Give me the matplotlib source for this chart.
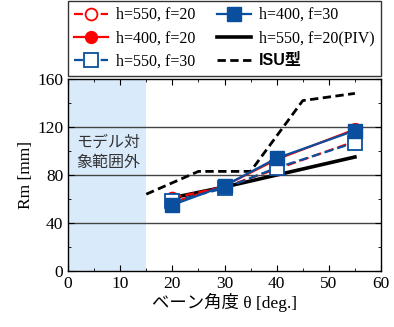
import matplotlib
matplotlib.use("Agg")
import matplotlib.pyplot as plt

plt.rcParams['font.family'] = ['Liberation Serif', 'Noto Sans CJK JP']

angles = [20, 30, 40, 55]
h550_f20 = [61, 70, 85, 108]
h400_f20 = [57, 71, 93, 118]
h550_f30 = [58, 69, 86, 107]
h400_f30 = [55, 71, 94, 117]
piv_x = [20, 30, 40, 55]
piv_y = [61, 70, 80, 95]
isu_x = [15, 25, 35, 45, 55]
isu_y = [64, 83, 83, 142, 148]

red = '#ff0000'
blue = '#0a4f9e'

fig = plt.figure(figsize=(3.94, 3.27), dpi=100)
ax = fig.add_axes([0.1726, 0.1713, 0.7944, 0.5871])

ax.axvspan(0, 15, color='#d9ebfb', zorder=0, lw=0)
for yv in [40, 80, 120]:
    ax.axhline(yv, color='#444444', lw=1.0, zorder=1)

l1, = ax.plot(angles, h550_f20, color=red, ls='--', lw=1.6, marker='o', ms=8.5,
              mfc='white', mec=red, mew=1.3, dashes=(4, 2), zorder=3, label='h=550, f=20')
l2, = ax.plot(angles, h400_f20, color=red, ls='-', lw=1.6, marker='o', ms=8.5,
              mfc=red, mec=red, zorder=3, label='h=400, f=20')
l3, = ax.plot(angles, h550_f30, color=blue, ls='--', lw=1.6, marker='s', ms=9.5,
              mfc='white', mec=blue, mew=1.3, dashes=(4, 2), zorder=4, label='h=550, f=30')
l4, = ax.plot(angles, h400_f30, color=blue, ls='-', lw=1.6, marker='s', ms=9.5,
              mfc=blue, mec=blue, zorder=4, label='h=400, f=30')
l5, = ax.plot(piv_x, piv_y, color='black', lw=2.6, zorder=2, label='h=550, f=20(PIV)')
l6, = ax.plot(isu_x, isu_y, color='black', lw=2.0, ls='--', dashes=(3, 1.6), zorder=2, label='ISU型')

ax.set_xlim(0, 60)
ax.set_ylim(0, 160)
ax.set_xticks(range(0, 61, 10))
ax.set_xticks(range(0, 61, 5), minor=True)
ax.set_yticks(range(0, 161, 40))
ax.set_yticks(range(0, 161, 20), minor=True)
ax.tick_params(which='both', direction='in', top=True, right=True, labelsize=12.5)
ax.tick_params(which='major', length=4)
ax.tick_params(which='minor', length=2.5)
for s in ax.spines.values():
    s.set_linewidth(1.0)

ax.set_xlabel('ベーン角度 θ [deg.]', fontsize=12.5, labelpad=1)
ax.set_ylabel('Rm [mm]', fontsize=12.5, labelpad=2)

ax.text(1.5, 99, 'モデル対\n象範囲外', fontsize=11.5, family=['Noto Sans CJK JP'],
        color='#333333', va='center', ha='left', linespacing=1.2)

leg = fig.legend(handles=[l1, l2, l3, l4, l5, l6], ncol=2, loc='lower left',
                 bbox_to_anchor=(0.1726, 0.768, 0.7944, 0.2), mode='expand',
                 fontsize=11.5, frameon=True, fancybox=False, edgecolor='black',
                 handlelength=2.1, handletextpad=0.5, columnspacing=1.0,
                 borderaxespad=0, borderpad=0.4, labelspacing=0.45)
leg.get_frame().set_linewidth(1.0)
for t in leg.get_texts():
    if t.get_text() == 'ISU型':
        t.set_family(['Liberation Sans', 'Noto Sans CJK JP'])
        t.set_fontweight('bold')

fig.savefig('out.png', dpi=100)
